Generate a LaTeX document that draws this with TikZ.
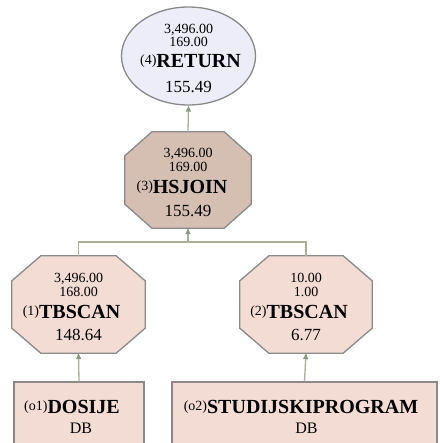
\documentclass[tikz,border=0pt]{standalone}
\usepackage{fontspec}
\setmainfont{Liberation Serif}
\usetikzlibrary{calc,arrows.meta,shapes.geometric}

\definecolor{retfill}{HTML}{EDEDF9}
\definecolor{joinfill}{HTML}{D5BFB3}
\definecolor{scanfill}{HTML}{F3DCD3}
\definecolor{edge}{HTML}{8A8A8A}
\definecolor{wire}{HTML}{AAB09A}
\definecolor{tipcol}{HTML}{8E9A80}

\tikzset{
  opbody/.style={inner sep=0pt, draw=none, shape=rectangle},
  border/.style={draw=edge, line width=1.3pt, line join=miter},
  tablebox/.style={draw=edge, line width=2pt, fill=scanfill, inner sep=0pt, anchor=north},
  numtxt/.style={inner sep=0pt, anchor=base, font=\fontsize{14}{14}\selectfont},
  costtxt/.style={inner sep=0pt, anchor=base, font=\fontsize{17}{17}\selectfont},
  nametxt/.style={inner sep=0pt, anchor=base, font=\fontsize{20}{20}\selectfont\bfseries},
  wirestyle/.style={draw=wire, line width=1.3pt},
  arrowed/.style={wirestyle, -{Triangle[length=6pt,width=5pt,fill=tipcol,color=tipcol]}},
}

% small raised operator number in front of an operator name
\newcommand\optag[1]{\raisebox{3pt}{\fontsize{14}{14}\mdseries\selectfont(#1)}}

% octagon around an invisible body node: #1 node, #2 x chamfer, #3 y chamfer, #4 fill
\newcommand\octpath[4]{%
  \path[border, fill=#4]
    ($(#1.north west)+(#2,0)$) -- ($(#1.north east)+(-#2,0)$) --
    ($(#1.north east)+(0,#3)$) -- ($(#1.south east)+(0,-#3)$) --
    ($(#1.south east)+(-#2,0)$) -- ($(#1.south west)+(#2,0)$) --
    ($(#1.south west)+(0,-#3)$) -- ($(#1.north west)+(0,#3)$) -- cycle;}

% four text lines of an operator: #1 node, #2 rows, #3 cardinality, #4 number,
% #5 operator, #6 name shift, #7 cost
\newcommand\opstats[7]{%
  \node[numtxt] (#1-rows) at ($(#1)+(0,-22)$) {#2};
  \node[numtxt] (#1-card) at ($(#1)+(0,-8)$) {#3};
  \node[nametxt] (#1-name) at ($(#1)+(#6,14)$) {\optag{#4}#5};
  \node[costtxt] (#1-cost) at ($(#1)+(0,36)$) {#7};}

\begin{document}
\begin{tikzpicture}[x=1pt,y=-1pt]
  \useasboundingbox (0,0) rectangle (439,443);
  \clip (0,0) rectangle (439,443);

  % RETURN
  \node[ellipse, draw=edge, line width=1.3pt, fill=retfill,
        minimum width=134pt, minimum height=98pt, inner sep=0pt] (ret) at (188.5,56) {};
  \node[numtxt] (ret-rows) at ($(ret)+(0,-22)$) {3,496.00};
  \node[numtxt] (ret-card) at ($(ret)+(0,-9)$) {169.00};
  \node[nametxt] (ret-name) at ($(ret)+(2,12)$) {\optag{4}RETURN};
  \node[costtxt] (ret-cost) at ($(ret)+(0,37)$) {155.49};

  % HSJOIN
  \node[opbody, minimum width=126pt, minimum height=96pt] (hs) at (188,180) {};
  \octpath{hs}{27}{24}{joinfill}
  \opstats{hs}{3,496.00}{169.00}{3}{HSJOIN}{-6}{155.49}

  % TBSCAN 1
  \node[opbody, minimum width=133pt, minimum height=97pt] (tb1) at (78.5,304.5) {};
  \octpath{tb1}{29}{25}{scanfill}
  \opstats{tb1}{3,496.00}{168.00}{1}{TBSCAN}{-7}{148.64}

  % TBSCAN 2
  \node[opbody, minimum width=132pt, minimum height=97pt] (tb2) at (306,304.5) {};
  \octpath{tb2}{29}{25}{scanfill}
  \opstats{tb2}{10.00}{1.00}{2}{TBSCAN}{-7}{6.77}

  % base tables
  \node[tablebox, minimum width=130pt, minimum height=80pt] (db1) at (79,381) {};
  \node[nametxt] (db1-name) at ($(db1.north)+(-7,32)$) {\optag{o1}DOSIJE};
  \node[numtxt, font=\fontsize{16}{16}\selectfont] (db1-schema) at ($(db1.north)+(2,52)$) {DB};

  \node[tablebox, minimum width=265pt, minimum height=80pt] (db2) at (304.5,381) {};
  \node[nametxt] (db2-name) at ($(db2.north)+(-3.5,32)$) {\optag{o2}STUDIJSKIPROGRAM};
  \node[numtxt, font=\fontsize{16}{16}\selectfont] (db2-schema) at ($(db2.north)+(2,52)$) {DB};

  % data flow
  \coordinate (jn) at (188,242);
  \draw[arrowed] (hs.north) -- (ret.south);
  \draw[wirestyle] (tb1.north) |- (jn);
  \draw[wirestyle] (tb2.north) |- (jn);
  \draw[arrowed] (jn) -- (hs.south);
  \draw[arrowed] (db1.north) -- (tb1.south);
  \draw[arrowed] (db2.north) -- (tb2.south);
\end{tikzpicture}
\end{document}
